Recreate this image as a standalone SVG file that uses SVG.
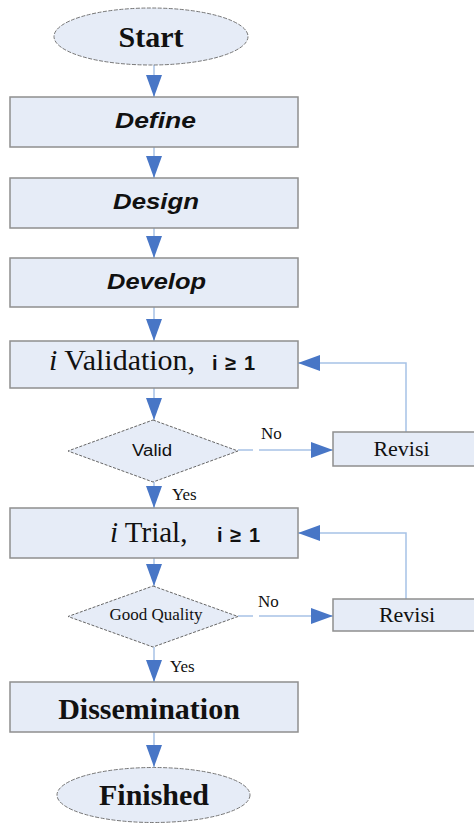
<svg xmlns="http://www.w3.org/2000/svg" width="474" height="823" viewBox="0 0 474 823">
<style>
.box{fill:#e6ecf7;stroke:#8f8f8f;stroke-width:1.5}
.term{fill:#e6ecf7;stroke:#777;stroke-width:1;stroke-dasharray:4 1.5}
.dia{fill:#e6ecf7;stroke:#666;stroke-width:1;stroke-dasharray:3 1.5}
.con{fill:none;stroke:#a7c2e6;stroke-width:1.5}
.serif{font-family:"Liberation Serif","Times New Roman",serif;fill:#111}
.sans{font-family:"Liberation Sans",Arial,sans-serif;fill:#111}
.big{font-size:30px;font-weight:bold}
.step{font-size:22px;font-weight:bold;font-style:italic}
.lbl{font-size:17px}
</style>
<defs>
<marker id="ah" markerUnits="userSpaceOnUse" markerWidth="22" markerHeight="16" refX="22" refY="8" orient="auto">
<path d="M0,0 L22,8 L0,16 z" fill="#4876c6"/>
</marker>
</defs>
<rect width="474" height="823" fill="#ffffff"/>
<g id="connectors">
<line class="con" x1="154" y1="65" x2="154" y2="97" marker-end="url(#ah)"/>
<line class="con" x1="154" y1="147" x2="154" y2="178" marker-end="url(#ah)"/>
<line class="con" x1="154" y1="228" x2="154" y2="258" marker-end="url(#ah)"/>
<line class="con" x1="154" y1="307" x2="154" y2="341" marker-end="url(#ah)"/>
<line class="con" x1="154" y1="388" x2="154" y2="420" marker-end="url(#ah)"/>
<line class="con" x1="154" y1="482" x2="154" y2="508" marker-end="url(#ah)"/>
<line class="con" x1="154" y1="558" x2="154" y2="586" marker-end="url(#ah)"/>
<line class="con" x1="154" y1="647" x2="154" y2="682" marker-end="url(#ah)"/>
<line class="con" x1="154" y1="732" x2="154" y2="767" marker-end="url(#ah)"/>
<line class="con" x1="238" y1="450" x2="253" y2="450"/>
<line class="con" x1="259" y1="450" x2="333" y2="450" marker-end="url(#ah)"/>
<polyline class="con" points="406,432 406,363 298,363" marker-end="url(#ah)"/>
<line class="con" x1="238" y1="616" x2="253" y2="616"/>
<line class="con" x1="259" y1="616" x2="333" y2="616" marker-end="url(#ah)"/>
<polyline class="con" points="406,599 406,533 298,533" marker-end="url(#ah)"/>
<text class="serif lbl" x="261" y="439">No</text>
<text class="serif lbl" x="172" y="500">Yes</text>
<text class="serif lbl" x="258" y="607">No</text>
<text class="serif lbl" x="170" y="672">Yes</text>
</g>
<g id="start">
<ellipse class="term" cx="151" cy="36.5" rx="97" ry="28.5"/>
<text class="serif big" x="151" y="47" text-anchor="middle">Start</text>
</g>
<g id="define">
<rect class="box" x="10" y="97" width="288" height="50"/>
<text class="sans step" x="155.5" y="128" text-anchor="middle" textLength="81" lengthAdjust="spacingAndGlyphs">Define</text>
</g>
<g id="design">
<rect class="box" x="10" y="178" width="288" height="50"/>
<text class="sans step" x="156" y="209" text-anchor="middle" textLength="86" lengthAdjust="spacingAndGlyphs">Design</text>
</g>
<g id="develop">
<rect class="box" x="10" y="258" width="288" height="49"/>
<text class="sans step" x="156.5" y="289" text-anchor="middle" textLength="99" lengthAdjust="spacingAndGlyphs">Develop</text>
</g>
<g id="validation">
<rect class="box" x="10" y="341" width="288" height="47"/>
<text class="serif" x="49" y="370" font-size="30"><tspan font-style="italic">i</tspan> Validation,</text>
<text class="sans" x="212" y="370" font-size="20" font-weight="bold" textLength="43" lengthAdjust="spacing">i ≥ 1</text>
</g>
<g id="valid">
<polygon class="dia" points="153,420 238,451 153,482 68,451"/>
<text class="sans" x="152" y="456" font-size="16" text-anchor="middle" textLength="40" lengthAdjust="spacingAndGlyphs">Valid</text>
</g>
<g id="revisi1">
<rect class="box" x="333" y="432" width="150" height="34"/>
<text class="serif" x="401.5" y="456" font-size="22" text-anchor="middle">Revisi</text>
</g>
<g id="trial">
<rect class="box" x="10" y="508" width="288" height="50"/>
<text class="serif" x="110" y="542" font-size="29"><tspan font-style="italic">i</tspan> Trial,</text>
<text class="sans" x="217" y="542" font-size="20" font-weight="bold" textLength="43" lengthAdjust="spacing">i ≥ 1</text>
</g>
<g id="goodquality">
<polygon class="dia" points="153,586 238,616.5 153,647 68,616.5"/>
<text class="serif" x="156" y="620" font-size="17" text-anchor="middle">Good Quality</text>
</g>
<g id="revisi2">
<rect class="box" x="333" y="599" width="150" height="32"/>
<text class="serif" x="407" y="622" font-size="22" text-anchor="middle">Revisi</text>
</g>
<g id="dissemination">
<rect class="box" x="10" y="682" width="288" height="50"/>
<text class="serif big" x="149" y="719" text-anchor="middle">Dissemination</text>
</g>
<g id="finished">
<ellipse class="term" cx="153.5" cy="795" rx="96.5" ry="27.5"/>
<text class="serif big" x="154" y="805" text-anchor="middle">Finished</text>
</g>
</svg>
